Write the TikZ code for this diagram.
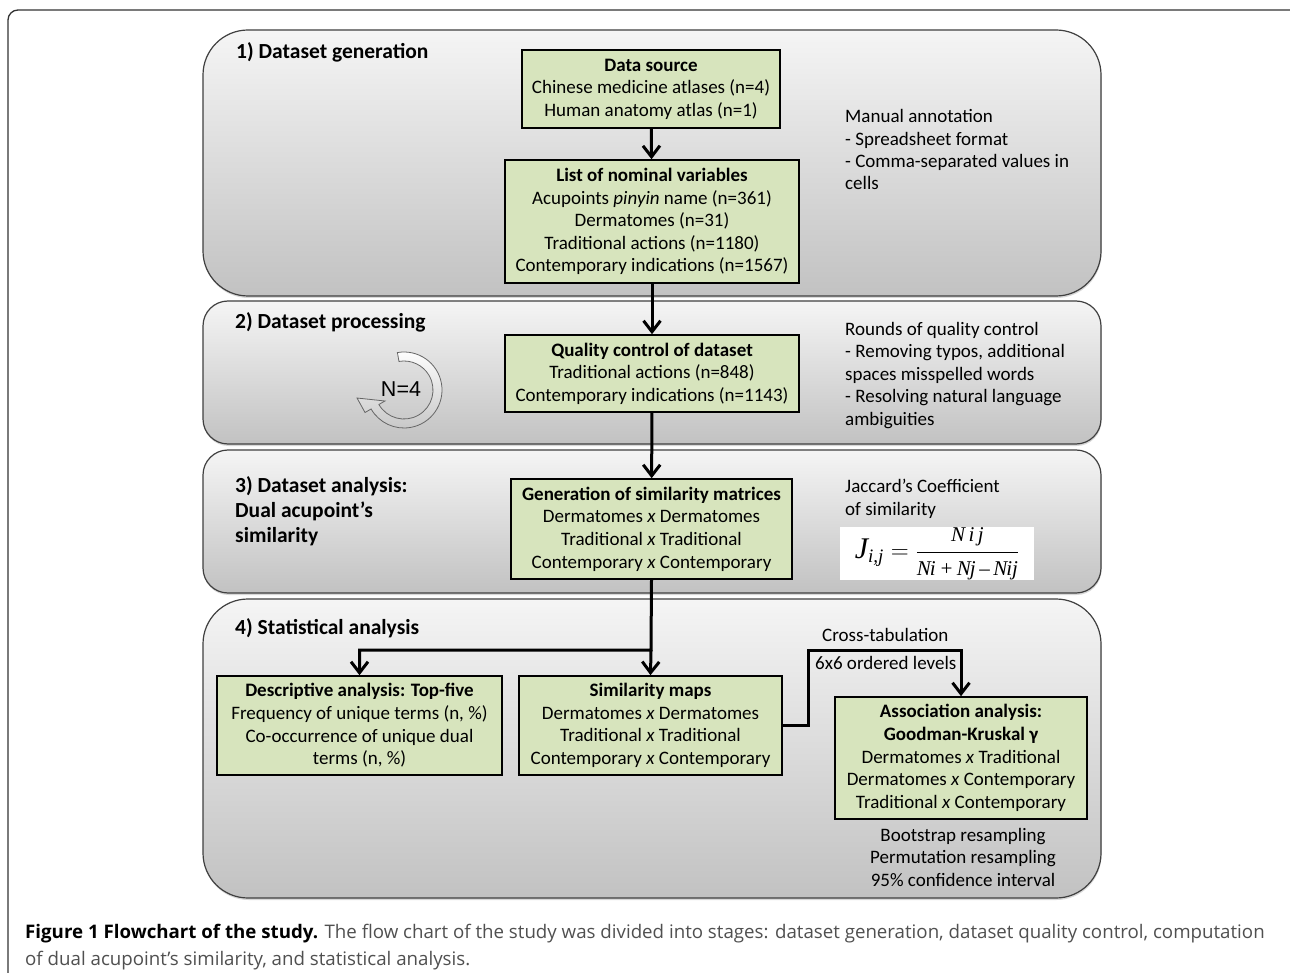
\documentclass[tikz,border=0pt]{standalone}
\usepackage{fontspec}
\setmainfont{Carlito}
\newfontfamily\capfont{Open Sans}
\newfontfamily\arialfont{Liberation Sans}
\newfontfamily\timesfont{Liberation Serif}
\usetikzlibrary{arrows.meta,shadows}
\definecolor{boxgreen}{RGB}{215,228,189}
\definecolor{capgray}{RGB}{80,80,80}
\tikzset{
  panel/.style={draw=black!75, line width=1.2pt, top color=black!4, bottom color=black!24,
    drop shadow={shadow xshift=.5pt, shadow yshift=-2pt, opacity=.3}},
  greenbox/.style={draw=black, line width=1.6pt, fill=boxgreen, align=center, inner sep=2pt,
    font=\fontsize{19}{22.6}\selectfont},
  flow/.style={line width=3pt, -{Straight Barb[length=11pt,width=17pt]}},
  title/.style={font=\fontsize{21.5}{25}\selectfont\bfseries, anchor=base west, align=left, inner sep=0pt},
  note/.style={font=\fontsize{19}{22.4}\selectfont, anchor=base west, align=left, inner sep=0pt}
}
\begin{document}
\begin{tikzpicture}[x=1pt,y=-1pt]
    \useasboundingbox (0,0) rectangle (1290,973);
    \fill[white] (0,0) rectangle (1290,973);
    \clip (0,0) rectangle (1290,973);
    \draw[black!80, line width=1.3pt, rounded corners=10] (8,10) rectangle (1320,1010);
    % stage panels
    \draw[panel, rounded corners=45] (203,30) rectangle (1101,296);
    \draw[panel, rounded corners=25] (203,301) rectangle (1101,444);
    \draw[panel, rounded corners=25] (203,450) rectangle (1101,593);
    \draw[panel, rounded corners=45] (203,599) rectangle (1101,898);
    % (multi-line nodes: base = last line)
    \node[title] (t1) at (236,59) {1) Dataset generation};
    \node[title] (t2) at (235,329) {2) Dataset processing};
    \node[title] (t3) at (235,542) {3) Dataset analysis:\\Dual acupoint’s\\similarity};
    \node[title] (t4) at (235,634) {4) Statistical analysis};
    % boxes
    \node[greenbox, minimum width=258, minimum height=78] (src) at (651,89)
        {\textbf{Data source}\\Chinese medicine atlases (n=4)\\Human anatomy atlas (n=1)};
    \node[greenbox, minimum width=294, minimum height=123] (list) at (652,221.5)
        {\textbf{List of nominal variables}\\Acupoints \textit{pinyin} name (n=361)\\Dermatomes (n=31)\\Traditional actions (n=1180)\\Contemporary indications (n=1567)};
    \node[greenbox, minimum width=294, minimum height=77] (qc) at (652,373.5)
        {\textbf{Quality control of dataset}\\Traditional actions (n=848)\\Contemporary indications (n=1143)};
    \node[greenbox, minimum width=281, minimum height=100] (gen) at (651.5,529)
        {\textbf{Generation of similarity matrices}\\Dermatomes \textit{x} Dermatomes\\Traditional \textit{x} Traditional\\Contemporary \textit{x} Contemporary};
    \node[greenbox, minimum width=285, minimum height=99] (desc) at (359.5,725.5)
        {\textbf{Descriptive analysis: Top-five}\\Frequency of unique terms (n, \%)\\Co-occurrence of unique dual\\terms (n, \%)};
    \node[greenbox, minimum width=263, minimum height=99] (simmap) at (650.5,725.5)
        {\textbf{Similarity maps}\\Dermatomes \textit{x} Dermatomes\\Traditional \textit{x} Traditional\\Contemporary \textit{x} Contemporary};
    \node[greenbox, minimum width=252, minimum height=122] (assoc) at (961,758)
        {\textbf{Association analysis:}\\\textbf{Goodman-Kruskal γ}\\Dermatomes \textit{x} Traditional\\Dermatomes \textit{x} Contemporary\\Traditional \textit{x} Contemporary};
    % side notes
    \node[note] (annot) at (845,190) {Manual annotation\\- Spreadsheet format\\- Comma-separated values in\\cells};
    \node[note] (qcnote) at (845,425) {Rounds of quality control\\- Removing typos, additional\\spaces misspelled words\\- Resolving natural language\\ambiguities};
    \node[note] (jacc) at (845,515) {Jaccard’s Coefficient\\of similarity};
    \node[fill=white, minimum width=194, minimum height=53, inner sep=0pt] (jform) at (937,553.5)
        {\timesfont\itshape\fontsize{24}{26}\selectfont
         $\displaystyle \mbox{\fontsize{30}{30}\selectfont J}_{\mbox{\fontsize{19}{19}\selectfont i,j}}
         = \frac{\mbox{\fontsize{21}{21}\selectfont N\,i\,j}}{\mbox{\fontsize{21}{21}\selectfont N\kern-1pt i\,+\,N\kern-1pt j\,–\,N\kern-1pt ij}}$};
    \node[note, anchor=base, align=center] (boot) at (963,886)
        {Bootstrap resampling\\Permutation resampling\\95\% confidence interval};
    \node[note] (xtab) at (822,641.5) {Cross-tabulation};
    \node[note] (levels) at (815,669.5) {6x6 ordered levels};
    % repeat loop symbol
    \begin{scope}[shift={(404,390)}, yscale=-1]
        \draw[black!60, line width=.8pt, top color=white, bottom color=black!22]
            (100:38) arc[start angle=100, end angle=-150, radius=38]
            -- (-150:45) -- (-47,-8) -- (-150:22) -- (-150:29)
            arc[start angle=-150, end angle=100, radius=29] -- cycle;
    \end{scope}
    \node[font=\arialfont\fontsize{21.5}{24}\selectfont] (loopn) at (401,389) {N=4};
    % connectors
    \coordinate (split) at (651,650);
    \coordinate (xt) at (808,650);
    \draw[flow] (src) -- (list);
    \draw[flow] (list) -- (qc);
    \draw[flow] (qc) -- (gen);
    \draw[flow] (gen.south) -- (split) -| (desc.north);
    \draw[flow] (split) -- (simmap.north);
    \draw[flow] (simmap.east) -| (xt) -| (assoc.north);
    % caption
    \node[font=\capfont\fontsize{18.7}{22}\selectfont, anchor=base west, inner sep=0pt] (cap1) at (25,938.5)
        {\textbf{Figure 1 Flowchart of the study.} \color{capgray}The flow chart of the study was divided into stages: dataset generation, dataset quality control, computation};
    \node[font=\capfont\fontsize{18.7}{22}\selectfont, anchor=base west, inner sep=0pt, text=capgray] (cap2) at (25,965.5)
        {of dual acupoint’s similarity, and statistical analysis.};
\end{tikzpicture}
\end{document}
